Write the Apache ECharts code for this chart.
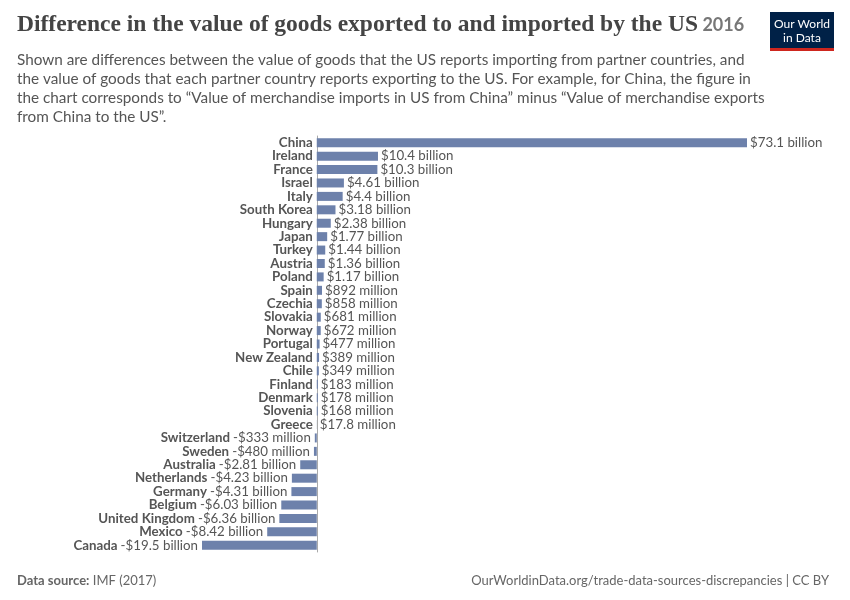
<!DOCTYPE html>
<html><head><meta charset="utf-8">
<script src="https://cdn.jsdelivr.net/npm/echarts@6/dist/echarts.min.js"></script>
<style>body{margin:0}#c{width:850px;height:600px}</style>
</head><body><div id="c"></div>
<script>
var countries=['China','Ireland','France','Israel','Italy','South Korea','Hungary','Japan','Turkey','Austria','Poland','Spain','Czechia','Slovakia','Norway','Portugal','New Zealand','Chile','Finland','Denmark','Slovenia','Greece','Switzerland','Sweden','Australia','Netherlands','Germany','Belgium','United Kingdom','Mexico','Canada'];
var values=[73.1,10.4,10.3,4.61,4.4,3.18,2.38,1.77,1.44,1.36,1.17,0.892,0.858,0.681,0.672,0.477,0.389,0.349,0.183,0.178,0.168,0.0178,-0.333,-0.48,-2.81,-4.23,-4.31,-6.03,-6.36,-8.42,-19.5];
var valueLabels=['$73.1 billion','$10.4 billion','$10.3 billion','$4.61 billion','$4.4 billion','$3.18 billion','$2.38 billion','$1.77 billion','$1.44 billion','$1.36 billion','$1.17 billion','$892 million','$858 million','$681 million','$672 million','$477 million','$389 million','$349 million','$183 million','$178 million','$168 million','$17.8 million','-$333 million','-$480 million','-$2.81 billion','-$4.23 billion','-$4.31 billion','-$6.03 billion','-$6.36 billion','-$8.42 billion','-$19.5 billion'];

var font='Lato, "Noto Sans", sans-serif';
var chart=echarts.init(document.getElementById('c'));

var mainData=values.map(function(v,i){
  return {value:v,label:{show:v>=0,position:'right',distance:3,formatter:valueLabels[i]}};
});
var nameData=values.map(function(v,i){
  return {value:v,label:{show:true,position:'left',distance:4,
    formatter:v>=0?'{n|'+countries[i]+'}':'{n|'+countries[i]+'} {v|'+valueLabels[i]+'}'}};
});

chart.setOption({
  textStyle:{fontFamily:font},
  title:[{
    left:12,top:8,
    text:'{t|Difference in the value of goods exported to and imported by the US} {y|2016}',
    textStyle:{rich:{
      t:{fontFamily:'"Liberation Serif", serif',fontSize:23.5,fontWeight:'bold',color:'#444'},
      y:{fontFamily:font,fontSize:18,color:'#777'}}}
  },{
    left:12,top:46,
    text:'Shown are differences between the value of goods that the US reports importing from partner countries, and\nthe value of goods that each partner country reports exporting to the US. For example, for China, the figure in\nthe chart corresponds to “Value of merchandise imports in US from China” minus “Value of merchandise exports\nfrom China to the US”.',
    textStyle:{fontFamily:font,fontSize:15.3,fontWeight:'normal',color:'#555',lineHeight:19}
  },{
    left:12,top:569,
    text:'{b|Data source:} IMF (2017)',
    textStyle:{fontFamily:font,fontSize:13,fontWeight:'normal',color:'#666',rich:{b:{fontFamily:font,fontSize:13,fontWeight:'bold',color:'#666'}}}
  },{
    right:16,top:569,
    text:'OurWorldinData.org/trade-data-sources-discrepancies | CC BY',
    textStyle:{fontFamily:font,fontSize:13,fontWeight:'normal',color:'#666'}
  }],
  graphic:[
    {type:'rect',shape:{x:770,y:12,width:64,height:38},style:{fill:'#002147'}},
    {type:'rect',shape:{x:770,y:48,width:64,height:3},style:{fill:'#ce261e'}},
    {type:'text',style:{x:802,y:17,text:'Our World\nin Data',fill:'#fff',font:'12px '+font,align:'center',lineHeight:14}}
  ],
  grid:{left:202,right:103,top:136,bottom:48},
  xAxis:{type:'value',min:-19.5,max:73.1,show:false},
  yAxis:{type:'category',data:countries,inverse:true,axisTick:{show:false},axisLabel:{show:false},
    axisLine:{show:true,lineStyle:{color:'#aaa',width:1}}},
  series:[{
    type:'bar',data:mainData,barWidth:9,itemStyle:{color:'#6d81ab'},
    label:{fontFamily:font,fontSize:13.3,color:'#555'},z:3
  },{
    type:'bar',data:nameData,barWidth:9,barGap:'-100%',itemStyle:{color:'rgba(0,0,0,0)'},
    label:{rich:{n:{fontFamily:font,fontSize:13.3,fontWeight:'bold',color:'#555'},
                 v:{fontFamily:font,fontSize:13.3,color:'#555'}}},z:2
  }]
});
</script></body></html>
